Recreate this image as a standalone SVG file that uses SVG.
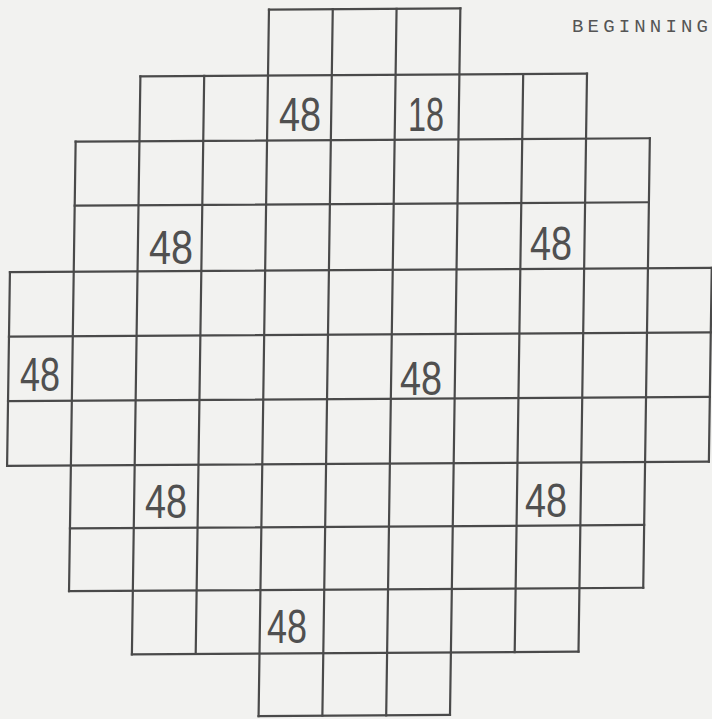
<svg xmlns="http://www.w3.org/2000/svg" width="712" height="719" viewBox="0 0 712 719">
<style>
.g{fill:none;stroke:#4a4a4a;stroke-width:2.2;stroke-linecap:square}
.n{font-family:"Liberation Sans","DejaVu Sans",sans-serif;font-size:48px;fill:#505050;text-anchor:middle}
.t{font-family:"Liberation Mono","DejaVu Sans Mono",monospace;font-size:19px;fill:#555}
</style>
<rect width="712" height="719" fill="#f2f2f0"/>
<g id="grid" class="g" transform="matrix(1,-0.006,-0.0147,1,13.9,2.1)">
<path d="M255.2 9H446.6M127.6 75H574.2M63.8 140H638M63.8 204H638M0 270H701.8M0 334.5H701.8M0 399H701.8M0 463.7H701.8M63.8 526.7H638M63.8 589.5H638M127.6 653H574.2M255.2 715.5H446.6"/>
<path d="M0 270V463.7M63.8 140V589.5M127.6 75V653M191.4 75V653M255.2 9V715.5M319 9V715.5M382.8 9V715.5M446.6 9V715.5M510.4 75V653M574.2 75V653M638 140V589.5M701.8 270V463.7"/>
</g>
<g id="labels" class="n">
<text x="300" y="131" textLength="42" lengthAdjust="spacingAndGlyphs">48</text>
<text x="426" y="131" textLength="36" lengthAdjust="spacingAndGlyphs">18</text>
<text x="171" y="264" textLength="44" lengthAdjust="spacingAndGlyphs">48</text>
<text x="551" y="260" textLength="42" lengthAdjust="spacingAndGlyphs">48</text>
<text x="40" y="391" textLength="40" lengthAdjust="spacingAndGlyphs">48</text>
<text x="421" y="395" textLength="42" lengthAdjust="spacingAndGlyphs">48</text>
<text x="166" y="518" textLength="42" lengthAdjust="spacingAndGlyphs">48</text>
<text x="546" y="517" textLength="42" lengthAdjust="spacingAndGlyphs">48</text>
<text x="287" y="643" textLength="40" lengthAdjust="spacingAndGlyphs">48</text>
</g>
<text id="title" class="t" x="572" y="32" textLength="136" lengthAdjust="spacing">BEGINNING</text>
</svg>
